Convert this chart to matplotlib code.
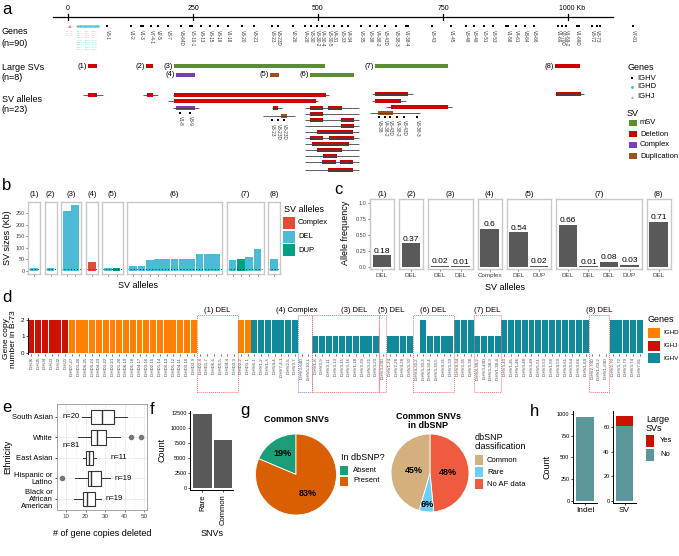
import matplotlib
matplotlib.use('Agg')
import numpy as np
import matplotlib.pyplot as plt
from matplotlib.patches import Rectangle

plt.rcParams['font.family'] = ['Liberation Sans', 'DejaVu Sans']

W, H = 679, 556
fig = plt.figure(figsize=(W / 100, H / 100), dpi=100)


def add_ax(x0, y0, x1, y1, **kw):
    # axes placed by pixel box (top-left origin)
    return fig.add_axes([x0 / W, 1 - y1 / H, (x1 - x0) / W, (y1 - y0) / H], **kw)


# ---------------- data ----------------
# panel a : genes along the locus (kb)
a_ticks = [0, 250, 500, 750, 1000]
a_tick_labels = ['0', '250', '500', '750', '1000 Kb']
v_names = ['V6-1', 'V1-2', 'V1-3', 'V7-4-1', 'V2-5', 'V3-7', 'V3-64D', 'V5-10-1', 'V3-13', 'V3-15',
           'V3-16', 'V1-18', 'V3-20', 'V3-21', 'V3-23', 'V3-23D', 'V2-26', 'V4-28', 'V3-30', 'V3-30-2',
           'V4-30-4', 'V3-30-5', 'V4-31', 'V3-33', 'V4-34', 'V3-35', 'V3-38', 'V4-38-2', 'V3-43D',
           'V3-38-3', 'V1-38-4', 'V3-43', 'V1-45', 'V3-48', 'V3-49', 'V5-51', 'V3-53', 'V1-58', 'V4-61',
           'V3-64', 'V3-66', 'V1-69', 'V2-70D', 'V1-69-2', 'V1-69D', 'V3-72', 'V3-73', 'V7-81']
v_pos = [78, 126, 146, 166, 180, 200, 226, 248, 266, 284, 300, 320, 348, 372, 408, 420, 450, 474,
         486, 498, 508, 522, 532, 548, 560, 586, 604, 618, 634, 656, 676, 728, 766, 796, 812, 832,
         850, 880, 896, 914, 932, 980, 988, 996, 1018, 1048, 1058, 1130]
v_extra_pos = [150, 244, 680, 876, 1022, 1064]
d_pos = [18, 20, 21, 23, 24, 26, 27, 29, 31, 33, 34, 36, 38, 39, 41, 43, 44, 46, 48, 49, 51, 53,
         54, 56, 57, 59, 60]
d_short = ['D1-1', 'D2-2', 'D3-3', 'D4-4', 'D5-5', 'D6-6', 'D1-7', 'D2-8', 'D3-9', 'D3-10', 'D4-11',
           'D5-12', 'D6-13', 'D1-14', 'D2-15', 'D3-16', 'D4-17', 'D5-18', 'D6-19', 'D1-20', 'D2-21',
           'D3-22', 'D4-23', 'D5-24', 'D6-25', 'D1-26', 'D7-27']
j_pos = [1, 1.5, 2, 2.5, 3, 3.5]
j_short = ['J1', 'J2', 'J3', 'J4', 'J5', 'J6']

# large SVs (kb)
sv_labels = ['(1)', '(2)', '(3)', '(4)', '(5)', '(6)', '(7)', '(8)']
sv_start = [40, 156, 212, 216, 404, 484, 614, 974]
sv_end = [58, 170, 514, 254, 422, 572, 760, 1024]
sv_type = ['Deletion', 'Deletion', 'mSV', 'Complex', 'Duplication', 'mSV', 'mSV', 'Deletion']
sv_row_y = [66, 66, 66, 75, 75, 75, 66, 66]

# SV alleles: extent line + coloured segments
al_start = [30, 150, 210, 200, 210, 408, 390, 974, 608, 608, 636, 604,
            474, 474, 474, 474, 474, 474, 474, 474, 474, 474, 474]
al_end = [70, 180, 522, 500, 262, 428, 454, 1032, 690, 676, 768, 704,
          582, 582, 582, 582, 582, 582, 582, 582, 582, 582, 582]
al_segs = [
    [(40, 58, 'Deletion')],
    [(158, 170, 'Deletion')],
    [(212, 516, 'Deletion')],
    [(212, 496, 'Deletion')],
    [(216, 254, 'Complex')],
    [(410, 420, 'Deletion')],
    [(426, 438, 'Duplication')],
    [(976, 1026, 'Deletion')],
    [(614, 680, 'Deletion')],
    [(614, 666, 'Deletion')],
    [(646, 760, 'Deletion')],
    [(620, 650, 'Duplication')],
    [(484, 510, 'Deletion'), (520, 548, 'Deletion')],
    [(484, 510, 'Deletion')],
    [(484, 510, 'Deletion'), (546, 572, 'Deletion')],
    [(546, 572, 'Deletion')],
    [(498, 570, 'Deletion')],
    [(484, 510, 'Deletion'), (522, 572, 'Deletion')],
    [(488, 562, 'Deletion')],
    [(498, 548, 'Deletion')],
    [(510, 538, 'Deletion')],
    [(508, 536, 'Deletion'), (544, 570, 'Deletion')],
    [(520, 570, 'Deletion')],
]
al_row_y = [95, 95, 95, 101, 108, 108, 116, 94, 94, 101, 107, 113,
            108, 114, 120, 126, 132, 138, 144, 150, 156, 162, 170]
al_gene_names = [['V1-8', 'V3-9'], ['V3-23', 'V3-23D', 'V3-23D'],
                 ['V3-38', 'V4-38-2', 'V3-43D', 'V4-38-2', 'V3-43D', 'V3-38-3']]
al_gene_pos = [[224, 244], [408, 420, 432], [622, 634, 644, 658, 672, 698]]
al_gene_y = [113, 120, 117]

sv_cols = {'mSV': '#5B8E2E', 'Deletion': '#CC0000', 'Complex': '#7B3FB5', 'Duplication': '#A0521D'}

# panel b : SV sizes
b_groups = ['(1)', '(2)', '(3)', '(4)', '(5)', '(6)', '(7)', '(8)']
b_sizes = [[14], [14], [258, 283], [39], [14, 14],
           [23, 23, 47, 50, 50, 51, 51, 51, 74, 74, 74], [47, 53, 61, 94], [50]]
b_types = [['DEL'], ['DEL'], ['DEL', 'DEL'], ['Complex'], ['DEL', 'DUP'],
           ['DEL'] * 11, ['DEL', 'DUP', 'DEL', 'DEL'], ['DEL']]
b_cols = {'Complex': '#E64B35', 'DEL': '#4DBBD5', 'DUP': '#00A087'}

# panel c : allele frequency
c_groups = ['(1)', '(2)', '(3)', '(4)', '(5)', '(7)', '(8)']
c_freq = [[0.18], [0.37], [0.02, 0.01], [0.6], [0.54, 0.02], [0.66, 0.01, 0.08, 0.03], [0.71]]
c_types = [['DEL'], ['DEL'], ['DEL', 'DEL'], ['Complex'], ['DEL', 'DUP'],
           ['DEL', 'DEL', 'DEL', 'DUP'], ['DEL']]

# panel d : gene copy number in B-73
d_genes = (['IGHJ6', 'IGHJ5', 'IGHJ4', 'IGHJ3', 'IGHJ2', 'IGHJ1'] +
           ['IGHD7-27', 'IGHD1-26', 'IGHD6-25', 'IGHD5-24', 'IGHD4-23', 'IGHD3-22', 'IGHD2-21',
            'IGHD1-20', 'IGHD6-19', 'IGHD5-18', 'IGHD4-17', 'IGHD3-16', 'IGHD2-15', 'IGHD1-14',
            'IGHD6-13', 'IGHD5-12', 'IGHD4-11', 'IGHD3-10', 'IGHD3-9', 'IGHD2-8', 'IGHD1-7',
            'IGHD6-6', 'IGHD5-5', 'IGHD4-4', 'IGHD3-3', 'IGHD2-2', 'IGHD1-1'] +
           ['IGHV6-1', 'IGHV1-2', 'IGHV1-3', 'IGHV4-4', 'IGHV7-4-1', 'IGHV2-5', 'IGHV3-7',
            'IGHV3-64D', 'IGHV5-10-1', 'IGHV1-8', 'IGHV3-9', 'IGHV3-11', 'IGHV3-13', 'IGHV3-15',
            'IGHV3-16', 'IGHV1-18', 'IGHV3-20', 'IGHV3-21', 'IGHV3-23', 'IGHV3-23D', 'IGHV1-24',
            'IGHV2-26', 'IGHV4-28', 'IGHV3-30', 'IGHV4-30-2', 'IGHV3-30-3', 'IGHV4-30-4',
            'IGHV3-30-5', 'IGHV4-31', 'IGHV3-33', 'IGHV4-34', 'IGHV3-35', 'IGHV3-38',
            'IGHV4-38-2', 'IGHV3-43D', 'IGHV3-38-3', 'IGHV1-38-4', 'IGHV3-43', 'IGHV1-45',
            'IGHV1-46', 'IGHV3-48', 'IGHV3-49', 'IGHV5-51', 'IGHV3-53', 'IGHV1-58', 'IGHV4-59',
            'IGHV4-61', 'IGHV3-64', 'IGHV3-66', 'IGHV1-69', 'IGHV2-70D', 'IGHV1-69-2',
            'IGHV1-69D', 'IGHV2-70', 'IGHV3-72', 'IGHV3-73', 'IGHV3-74', 'IGHV7-81'])
d_copies = ([2] * 6 + [2] * 19 + [0] * 6 + [2, 2] +
            [2] * 7 + [0, 0] + [1] * 10 + [0] + [1] * 4 +
            [0, 2, 1, 1, 1, 1] + [2] * 3 + [1] * 4 + [2] * 13 + [0] * 3 + [2] * 5)
d_boxes = [('(1) DEL', 'IGHD2-8', 'IGHD3-3', 'DEL'), ('(4) Complex', 'IGHV3-64D', 'IGHV5-10-1', 'Complex'),
           ('(3) DEL', 'IGHV1-8', 'IGHV3-23', 'DEL'), ('(5) DEL', 'IGHV3-23D', 'IGHV3-23D', 'DEL'),
           ('(6) DEL', 'IGHV4-30-2', 'IGHV3-33', 'DEL'), ('(7) DEL', 'IGHV4-38-2', 'IGHV1-38-4', 'DEL'),
           ('(8) DEL', 'IGHV2-70D', 'IGHV1-69D', 'DEL')]
d_title_shift = [0, -1.2, 1.3, 1.2, 0, 0, 0]
d_cols = {'IGHD': '#FF7F00', 'IGHJ': '#CC1100', 'IGHV': '#108A9A'}

# panel e : gene copies deleted by ethnicity
e_groups = ['South Asian', 'White', 'East Asian', 'Hispanic or\nLatino', 'Black or\nAfrican\nAmerican']
e_lo = [18.0, 16.2, 18.7, 14.5, 14.0]
e_q1 = [22.8, 22.8, 20.0, 21.2, 18.7]
e_med = [28.7, 25.8, 21.7, 22.8, 20.7]
e_q3 = [34.5, 30.3, 23.7, 27.8, 25.0]
e_hi = [41.2, 37.8, 25.3, 32.8, 27.8]
e_out = [[], [43.2, 48.2], [], [7.8], []]
e_n = ['n=20', 'n=81', 'n=11', 'n=19', 'n=19']
e_n_x = [12.8, 12.6, 36.9, 39.5, 34.9]

# panel f : SNV counts
f_cats = ['Rare', 'Common']
f_counts = [12300, 8000]

# panel g : pies
g1_labels = ['Absent', 'Present']
g1_vals = [19, 83]
g1_pct = ['19%', '83%']
g1_cols = ['#1B9E77', '#D95F02']
g2_labels = ['No AF data', 'Rare', 'Common']
g2_vals = [48, 6, 45]
g2_pct = ['48%', '6%', '45%']
g2_cols = ['#EF5B3E', '#6DCFF6', '#D4B07F']

# panel h : indel / SV counts
h_indel = 965
h_sv_no = 61
h_sv_yes = 8

# ---------------- overlay for labels / legends (pixel coords) ----------------
ov = add_ax(0, 0, W, H, zorder=20)
ov.set_xlim(0, W)
ov.set_ylim(H, 0)
ov.axis('off')


def t(x, y, s, **kw):
    kw.setdefault('fontsize', 6.5)
    kw.setdefault('va', 'center')
    ov.text(x, y, s, **kw)


for lab, x, y in [('a', 2, 10), ('b', 2, 185), ('c', 334, 190), ('d', 2, 297),
                  ('e', 2, 408), ('f', 150, 409), ('g', 240, 410), ('h', 530, 412)]:
    t(x, y, lab, fontsize=12)

# ---------------- panel a ----------------
axa = add_ax(0, 0, W, 180)
axa.set_xlim(-136, 1222)
axa.set_ylim(180, 0)
axa.axis('off')
axa.plot([-30, 1090], [17, 17], color='k', lw=0.9)
for tk, tl in zip(a_ticks, a_tick_labels):
    axa.plot([tk, tk], [14, 20], color='k', lw=0.9)
    axa.text(tk + (8 if tl.endswith('Kb') else 0), 12, tl, fontsize=5, ha='center', va='bottom')

axa.scatter(v_pos + v_extra_pos, [26] * (len(v_pos) + len(v_extra_pos)), marker='s', s=1.5,
            color='k', lw=0)
for n, p in zip(v_names, v_pos):
    axa.text(p, 30, n, rotation=-90, fontsize=3.3, ha='center', va='top', color='#333333')
axa.scatter(d_pos, [26] * len(d_pos), marker='o', s=2.5, color='#5BC8E0', lw=0)
# IGHD names packed as a small block under the cluster
for i, n in enumerate(d_short):
    col, row = i % 3, i // 3
    axa.text(d_pos[0] + col * 15, 31 + row * 2.3, n, fontsize=1.5, ha='left', va='center',
             color='#5BC8E0')
axa.scatter(j_pos, [26] * len(j_pos), marker='^', s=2.5, color='#F08CC0', lw=0)
for i, n in enumerate(j_short):
    col, row = i % 2, i // 2
    axa.text(j_pos[0] - 4 + col * 7, 31 + row * 2.3, n, fontsize=1.5, ha='left', va='center',
             color='#F08CC0')

for lab, s, e, ty, y in zip(sv_labels, sv_start, sv_end, sv_type, sv_row_y):
    axa.add_patch(Rectangle((s, y - 2.3), e - s, 4.6, color=sv_cols[ty], lw=0))
    axa.text(s - 3, y, lab, fontsize=5.5, ha='right', va='center')

for s, e, segs, y in zip(al_start, al_end, al_segs, al_row_y):
    axa.plot([s, e], [y, y], color='#444444', lw=0.6, solid_capstyle='butt')
    for ss, ee, ty in segs:
        axa.add_patch(Rectangle((ss, y - 1.9), ee - ss, 3.8, color=sv_cols[ty], lw=0))

for names, pos, y in zip(al_gene_names, al_gene_pos, al_gene_y):
    axa.scatter(pos, [y] * len(pos), marker='s', s=1.5, color='k', lw=0)
    for n, p in zip(names, pos):
        axa.text(p, y + 3.5, n, rotation=-90, fontsize=3.3, ha='center', va='top', color='#333333')

t(2, 31, 'Genes')
t(2, 43, '(n=90)')
t(2, 67, 'Large SVs')
t(2, 78, '(n=8)')
t(2, 99, 'SV alleles')
t(2, 110, '(n=23)')

# panel a legend
t(627, 67, 'Genes')
ov.scatter([632], [78], marker='s', s=3, color='k', lw=0)
ov.scatter([632], [87], marker='o', s=4, color='#29B6E8', lw=0)
ov.scatter([632], [97], marker='^', s=4, color='#F08CC0', lw=0)
t(637, 78, 'IGHV', fontsize=5.5)
t(637, 87, 'IGHD', fontsize=5.5)
t(637, 97, 'IGHJ', fontsize=5.5)
t(627, 113, 'SV')
for i, key in enumerate(['mSV', 'Deletion', 'Complex', 'Duplication']):
    y = 123 + i * 11
    ov.add_patch(Rectangle((629, y - 3), 8, 6, color=sv_cols[key], lw=0))
    t(640, y, key, fontsize=5.5)

# ---------------- panel b ----------------
x = 28
for gi, (g, vals, types) in enumerate(zip(b_groups, b_sizes, b_types)):
    n = len(vals)
    w = 8.3 * n + 3.7
    ax = add_ax(x, 202, x + w, 274)
    ax.bar(range(n), vals, width=0.92, color=[b_cols[k] for k in types], lw=0)
    ax.axhline(8, color='#222222', lw=0.7, ls=(0, (1, 2.2)))
    ax.set_xlim(-0.72, n - 0.28)
    ax.set_ylim(-13, 297)
    ax.set_xticks(range(n))
    ax.set_xticklabels([])
    if gi == 0:
        ax.set_yticks([0, 50, 100, 150, 200, 250])
        ax.tick_params(axis='y', labelsize=4, length=1.5, width=0.5, pad=1, colors='#444444')
    else:
        ax.set_yticks([])
    ax.tick_params(axis='x', length=1.5, width=0.5, colors='#444444')
    for sp in ax.spines.values():
        sp.set_color('#C8C8C8')
        sp.set_linewidth(1.0)
    t(x + w / 2, 194, g, fontsize=5.5, ha='center')
    x += w + 4.5

t(138, 286, 'SV alleles', ha='center')
t(8, 238, 'SV sizes (Kb)', ha='center', rotation=90)
t(284, 210, 'SV alleles')
for i, k in enumerate(['Complex', 'DEL', 'DUP']):
    y = 223 + i * 13.5
    ov.add_patch(Rectangle((283, y - 6), 12, 12, color=b_cols[k], lw=0))
    t(298, y, k, fontsize=5.5)

# ---------------- panel c ----------------
x = 370
for gi, (g, vals, types) in enumerate(zip(c_groups, c_freq, c_types)):
    n = len(vals)
    w = 20.5 * n + 3.5
    ax = add_ax(x, 199, x + w, 269)
    ax.bar(range(n), vals, width=0.9, color='#595959', lw=0)
    for i, v in enumerate(vals):
        ax.text(i, v + 0.01, f'{v:g}', fontsize=6, ha='center', va='bottom')
    ax.set_xlim(-0.585, n - 0.415)
    ax.set_ylim(-0.031, 1.0625)
    ax.set_xticks(range(n))
    ax.set_xticklabels(types, fontsize=4.5, color='#333333')
    if gi == 0:
        ax.set_yticks([0, 0.25, 0.5, 0.75, 1.0])
        ax.set_yticklabels(['0.0', '0.25', '0.50', '0.75', '1.0'])
        ax.tick_params(axis='y', labelsize=4, length=1.5, width=0.5, pad=1, colors='#444444')
    else:
        ax.set_yticks([])
    ax.tick_params(axis='x', length=1.5, width=0.5, pad=1.5, colors='#444444')
    for sp in ax.spines.values():
        sp.set_color('#C8C8C8')
        sp.set_linewidth(1.0)
    t(x + w / 2, 194, g, fontsize=5.5, ha='center')
    x += w + 5

t(505, 288, 'SV alleles', ha='center')
t(345, 233, 'Allele frequency', ha='center', rotation=90)

# ---------------- panel d ----------------
axd = add_ax(28, 318, 643, 354)
fam = [g[:4] for g in d_genes]
axd.bar(range(len(d_genes)), d_copies, width=0.88, color=[d_cols[f] for f in fam], lw=0)
axd.set_xlim(-0.5, len(d_genes) - 0.5)
axd.set_ylim(-0.06, 2.12)
axd.set_xticks(range(len(d_genes)))
axd.set_xticklabels(d_genes, rotation=90, fontsize=3.1, color='#444444')
axd.set_yticks([0, 1, 2])
axd.tick_params(axis='y', labelsize=4.5, length=1.5, width=0.5, pad=1)
axd.tick_params(axis='x', length=1.2, width=0.4, pad=1)
for k in ['top', 'right', 'bottom']:
    axd.spines[k].set_visible(False)
axd.spines['left'].set_linewidth(0.6)
for (lab, g0, g1, kind), sh in zip(d_boxes, d_title_shift):
    i0 = d_genes.index(g0)
    i1 = d_genes.index(g1)
    ec = '#8080F0' if kind == 'Complex' else '#FF7070'
    axd.add_patch(Rectangle((i0 - 0.5, -2.36), i1 - i0 + 1, 4.66, fill=False, ec=ec, lw=0.7,
                            ls=(0, (1, 1)), clip_on=False))
    axd.text((i0 + i1) / 2 + sh, 2.6, lab, fontsize=5.5, ha='center', va='center')
t(10, 339, 'Gene copy\nnumber in B-73', ha='center', rotation=90, fontsize=6, linespacing=1.0)
t(648, 320, 'Genes')
for i, k in enumerate(['IGHD', 'IGHJ', 'IGHV']):
    y = 333 + i * 12.5
    ov.add_patch(Rectangle((648, y - 5), 12, 10, color=d_cols[k], lw=0))
    t(663, y, k, fontsize=4.5)

# ---------------- panel e ----------------
axe = add_ax(57, 404, 147, 510)
ypos = [5, 4, 3, 2, 1]
stats = []
for i in range(len(e_groups)):
    stats.append(dict(med=e_med[i], q1=e_q1[i], q3=e_q3[i], whislo=e_lo[i], whishi=e_hi[i],
                      fliers=e_out[i]))
axe.bxp(stats, positions=ypos, widths=0.72, orientation='horizontal', patch_artist=True,
        boxprops=dict(facecolor='white', edgecolor='#333333', lw=0.8),
        medianprops=dict(color='#333333', lw=1.0),
        whiskerprops=dict(color='#333333', lw=0.7), capprops=dict(lw=0),
        flierprops=dict(marker='o', markersize=3, markerfacecolor='#777777',
                        markeredgecolor='#777777'))
for i, p in enumerate(ypos):
    yy = p - 0.38 if e_n[i] == 'n=81' else p
    axe.text(e_n_x[i], yy, e_n[i], fontsize=5.5, ha='center', va='center')
axe.set_xlim(5.4, 51.5)
axe.set_ylim(0.46, 5.63)
axe.set_yticks(ypos)
axe.set_yticklabels(e_groups, fontsize=5.5, linespacing=1.0)
axe.set_xticks([10, 20, 30, 40, 50])
axe.set_xticks([15, 25, 35, 45], minor=True)
axe.tick_params(axis='x', labelsize=4.5, length=1.5, width=0.5, pad=1.5, colors='#444444')
axe.tick_params(axis='x', which='minor', length=0)
axe.tick_params(axis='y', length=1.5, width=0.5, pad=1.5)
axe.grid(True, which='major', color='#EBEBEB', lw=0.6)
axe.grid(True, which='minor', axis='x', color='#F4F4F4', lw=0.4)
axe.set_axisbelow(True)
for sp in axe.spines.values():
    sp.set_color('#999999')
    sp.set_linewidth(0.6)
t(102, 533, '# of gene copies deleted', ha='center')
t(8, 457, 'Ethnicity', ha='center', rotation=90)

# ---------------- panel f ----------------
axf = add_ax(190, 411, 233, 490)
axf.bar(range(2), f_counts, width=0.9, color='#595959', lw=0)
axf.set_xlim(-0.61, 1.49)
axf.set_ylim(-300, 12800)
axf.set_xticks(range(2))
axf.set_xticklabels(f_cats, rotation=90, fontsize=5.5)
axf.set_yticks([0, 2500, 5000, 7500, 10000, 12500])
axf.tick_params(axis='y', labelsize=4, length=1.5, width=0.5, pad=1)
axf.tick_params(axis='x', length=1.5, width=0.5, pad=1.5)
for k in ['top', 'right']:
    axf.spines[k].set_visible(False)
for k in ['left', 'bottom']:
    axf.spines[k].set_linewidth(0.7)
t(212, 533, 'SNVs', ha='center')
t(162, 450, 'Count', ha='center', rotation=90)


# ---------------- panel g ----------------
def pie(cx, cy, r, vals, cols, labels, rads, ccw):
    ax = add_ax(cx - r, cy - r, cx + r, cy + r)
    wedges, _ = ax.pie(vals, colors=cols, startangle=90, counterclock=ccw,
                       wedgeprops=dict(edgecolor='white', linewidth=0.6))
    ax.set_xlim(-1, 1)
    ax.set_ylim(-1, 1)
    for wdg, lab, rr in zip(wedges, labels, rads):
        th = np.deg2rad((wdg.theta1 + wdg.theta2) / 2)
        ax.text(rr * np.cos(th), rr * np.sin(th), lab, fontsize=6.5, fontweight='bold',
                ha='center', va='center')
    return ax


pie(296, 474.5, 40.5, g1_vals, g1_cols, g1_pct, [0.62, 0.55], True)
pie(430, 473, 39, g2_vals, g2_cols, g2_pct, [0.47, 0.82, 0.42], False)
t(297, 420, 'Common SNVs', ha='center', fontweight='bold')
t(428, 421, 'Common SNVs\nin dbSNP', ha='center', fontweight='bold', linespacing=1.1)
t(341, 458, 'In dbSNP?')
for i, (lab, c) in enumerate(zip(g1_labels, g1_cols)):
    y = 470 + i * 11
    ov.add_patch(Rectangle((340, y - 4.5), 8, 9, color=c, lw=0))
    t(353, y, lab, fontsize=5.5)
t(475, 442, 'dbSNP\nclassification', linespacing=1.0)
for i, lab in enumerate(['Common', 'Rare', 'No AF data']):
    c = g2_cols[g2_labels.index(lab)]
    y = 460 + i * 12
    ov.add_patch(Rectangle((475, y - 5), 8, 10, color=c, lw=0))
    t(487, y, lab, fontsize=5.5)

# ---------------- panel h ----------------
h_no = '#5C979B'
h_yes = '#CC1100'
axh1 = add_ax(573, 411, 597, 503)
axh1.bar([0], [h_indel], width=0.9, color=h_no, lw=0)
axh1.set_xlim(-0.63, 0.63)
axh1.set_ylim(-25, 1035)
axh1.set_yticks([0, 250, 500, 750, 1000])
axh1.set_xticks([0])
axh1.set_xticklabels(['Indel'], fontsize=6)
axh2 = add_ax(613, 411, 636, 503)
axh2.bar([0], [h_sv_no], width=0.9, color=h_no, lw=0)
axh2.bar([0], [h_sv_yes], bottom=[h_sv_no], width=0.9, color=h_yes, lw=0)
axh2.set_xlim(-0.63, 0.63)
axh2.set_ylim(-1.6, 73)
axh2.set_yticks([0, 20, 40, 60])
axh2.set_xticks([0])
axh2.set_xticklabels(['SV'], fontsize=6)
for ax in (axh1, axh2):
    ax.tick_params(axis='y', labelsize=4, length=1.5, width=0.5, pad=1)
    ax.tick_params(axis='x', length=1.5, width=0.5, pad=1.5)
    for k in ['top', 'right']:
        ax.spines[k].set_visible(False)
    for k in ['left', 'bottom']:
        ax.spines[k].set_linewidth(0.7)
t(547, 467, 'Count', ha='center', rotation=90)
t(646, 424, 'Large\nSVs', linespacing=1.0)
ov.add_patch(Rectangle((646, 435), 8, 12, color=h_yes, lw=0))
ov.add_patch(Rectangle((646, 449), 8, 12, color=h_no, lw=0))
t(660, 441, 'Yes', fontsize=5.5)
t(660, 455, 'No', fontsize=5.5)

fig.savefig('out.png', dpi=100)
